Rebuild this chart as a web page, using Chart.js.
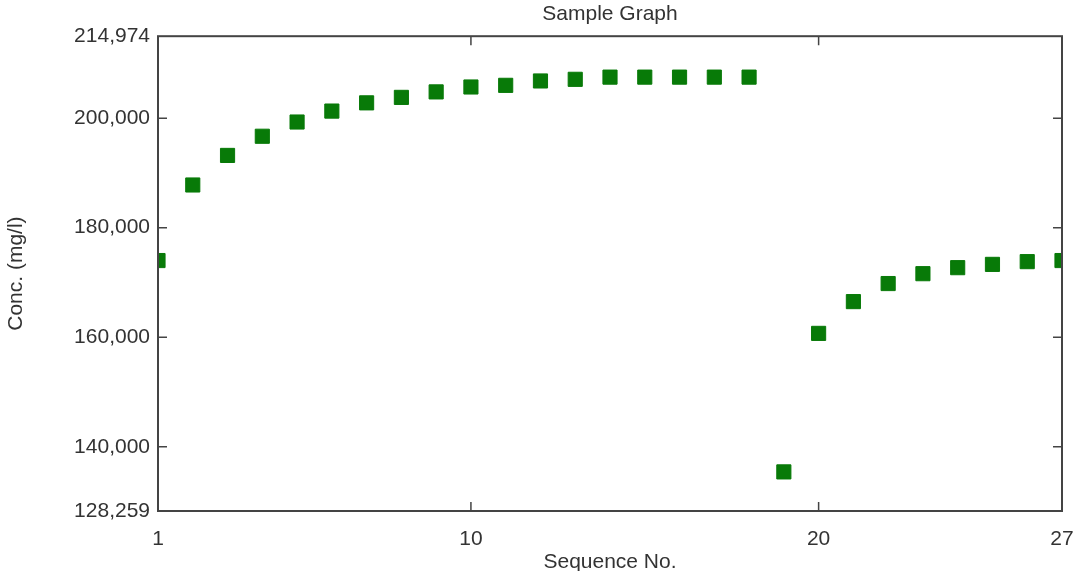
<!DOCTYPE html>
<html>
<head>
<meta charset="utf-8">
<script src="https://cdn.jsdelivr.net/npm/chart.js@4.4.0/dist/chart.umd.min.js"></script>
<style>
  html, body { margin: 0; padding: 0; background: #fff; }
  #wrap { width: 1075px; height: 571px; }
</style>
</head>
<body>
<div id="wrap"><canvas id="myChart"></canvas></div>
<script>
// sequence numbers and concentrations
const seqNo = [1, 2, 3, 4, 5, 6, 7, 8, 9, 10, 11, 12, 13, 14, 15, 16, 17, 18, 19, 20, 21, 22, 23, 24, 25, 26, 27];
const conc = [174000, 187800, 193200, 196700, 199300, 201300, 202800, 203800, 204800, 205700, 206000, 206800, 207100,
  207500, 207500, 207500, 207500, 207500, 135400, 160700, 166500, 169800, 171600, 172700, 173300, 173800, 174000];

const xTicks = [1, 10, 20, 27];
const yTicks = [128259, 140000, 160000, 180000, 200000, 214974];
const yMin = 128259, yMax = 214974;

const frameColor = '#444';
const textColor = '#333';
const fontFamily = 'Liberation Sans';

// box around the plot + short tick marks pointing inward
const framePlugin = {
  id: 'frame',
  afterDatasetsDraw(chart) {
    const { ctx, chartArea: a, scales } = chart;
    ctx.save();
    ctx.strokeStyle = frameColor;
    ctx.lineWidth = 2;
    ctx.strokeRect(a.left, a.top, a.right - a.left, a.bottom - a.top);
    ctx.lineWidth = 1.5;
    ctx.beginPath();
    xTicks.slice(1, -1).forEach(v => {
      const px = scales.x.getPixelForValue(v);
      ctx.moveTo(px, a.bottom); ctx.lineTo(px, a.bottom - 9);
      ctx.moveTo(px, a.top); ctx.lineTo(px, a.top + 9);
    });
    yTicks.slice(1, -1).forEach(v => {
      const py = scales.y.getPixelForValue(v);
      ctx.moveTo(a.left, py); ctx.lineTo(a.left + 9, py);
      ctx.moveTo(a.right, py); ctx.lineTo(a.right - 9, py);
    });
    ctx.stroke();
    ctx.restore();
  }
};

const ctx = document.getElementById('myChart');

new Chart(ctx, {
  type: 'scatter',
  data: {
    datasets: [{
      label: 'Conc.',
      data: seqNo.map((s, i) => ({ x: s, y: conc[i] })),
      pointStyle: 'rect',
      pointRadius: 10,
      pointBorderWidth: 1,
      backgroundColor: '#087a08',
      borderColor: '#087a08'
    }]
  },
  options: {
    responsive: true,
    maintainAspectRatio: false,
    animation: false,
    layout: { padding: 0 },
    plugins: {
      legend: { display: false },
      tooltip: { enabled: false },
      title: {
        display: true,
        fullSize: false, // center over the plot, not the canvas
        text: 'Sample Graph',
        color: textColor,
        font: { family: fontFamily, size: 21, weight: 'normal' },
        padding: { top: 2, bottom: 9 }
      }
    },
    scales: {
      x: {
        type: 'linear',
        min: 1,
        max: 27,
        grid: { display: false, drawTicks: false },
        border: { display: false },
        afterBuildTicks: axis => { axis.ticks = xTicks.map(v => ({ value: v })); },
        afterFit: axis => { axis.height = 60; axis.paddingRight = 13; },
        ticks: {
          color: textColor,
          font: { family: fontFamily, size: 21 },
          padding: 16,
          maxRotation: 0,
          callback: v => String(v)
        },
        title: {
          display: true,
          text: 'Sequence No.',
          color: textColor,
          font: { family: fontFamily, size: 21 },
          padding: { top: 0, bottom: -4 }
        }
      },
      y: {
        min: yMin,
        max: yMax,
        grid: { display: false, drawTicks: false },
        border: { display: false },
        afterBuildTicks: axis => { axis.ticks = yTicks.map(v => ({ value: v })); },
        afterFit: axis => { axis.width = 158; },
        ticks: {
          color: textColor,
          font: { family: fontFamily, size: 21 },
          padding: 8,
          callback: v => v.toLocaleString('en-US')
        },
        title: {
          display: true,
          text: 'Conc. (mg/l)',
          color: textColor,
          font: { family: fontFamily, size: 21 },
          padding: { top: 4, bottom: 0 }
        }
      }
    }
  },
  plugins: [framePlugin]
});
</script>
</body>
</html>
